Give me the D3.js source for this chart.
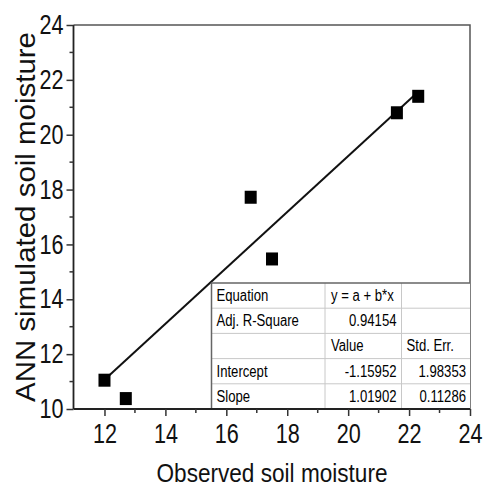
<!DOCTYPE html>
<html><head><meta charset="utf-8">
<script src="https://cdn.jsdelivr.net/npm/d3@7"></script>
<style>body{margin:0;background:#fff}svg{display:block}</style>
</head><body>
<svg id="c" width="489" height="486"></svg>
<script>
const observed = [12.0, 12.7, 16.8, 17.5, 21.6, 22.3];
const simulated = [11.05, 10.38, 17.72, 15.47, 20.8, 21.4];
const intercept = -1.15952, slope = 1.01902;
const xTicks = [12, 14, 16, 18, 20, 22, 24];
const yTicks = [10, 12, 14, 16, 18, 20, 22, 24];
const xMinor = [13, 15, 17, 19, 21, 23];
const yMinor = [11, 13, 15, 17, 19, 21, 23];
const tableRows = [
  ["Equation", "y = a + b*x", ""],
  ["Adj. R-Square", "0.94154", ""],
  ["", "Value", "Std. Err."],
  ["Intercept", "-1.15952", "1.98353"],
  ["Slope", "1.01902", "0.11286"]
];

const svg = d3.select("#c");
const L = 73.5, R = 470, T = 25, B = 409;
const x = d3.scaleLinear().domain([24 - (R - L) / 30.46, 24]).range([L, R]);
const y = d3.scaleLinear().domain([10, 24]).range([B, T]);
const font = "'Liberation Sans', Arial, sans-serif";

function condense(sel, f) {
  sel.each(function () {
    const w = this.getComputedTextLength();
    if (w > 0) d3.select(this).attr("textLength", w * f).attr("lengthAdjust", "spacingAndGlyphs");
  });
}

// frame top/right
svg.append("path").attr("d", `M${L},${T}H${R}V${B}`).attr("fill", "none")
  .attr("stroke", "#555").attr("stroke-width", 1.5);

// regression line
const xs = d3.extent(observed);
svg.append("line")
  .attr("x1", x(xs[0])).attr("y1", y(intercept + slope * xs[0]))
  .attr("x2", x(xs[1])).attr("y2", y(intercept + slope * xs[1]))
  .attr("stroke", "#111").attr("stroke-width", 2);

// table
const colX = [211.5, 325, 401.5, R];
const rowH = 25.2;
const tTop = B - rowH * tableRows.length;
const tg = svg.append("g");
tg.append("rect").attr("x", colX[0]).attr("y", tTop).attr("width", R - colX[0]).attr("height", B - tTop)
  .attr("fill", "#fff");
tableRows.forEach((r, i) => {
  if (i > 0) tg.append("line").attr("x1", colX[0]).attr("x2", R).attr("y1", tTop + i * rowH).attr("y2", tTop + i * rowH)
    .attr("stroke", "#c8c8c8").attr("stroke-width", 1);
});
[colX[1], colX[2]].forEach(cx => tg.append("line").attr("x1", cx).attr("x2", cx).attr("y1", tTop).attr("y2", B)
  .attr("stroke", "#c8c8c8").attr("stroke-width", 1));
tg.append("path").attr("d", `M${colX[0]},${B}V${tTop}H${R}`).attr("fill", "none").attr("stroke", "#666").attr("stroke-width", 1.5);
tableRows.forEach((r, i) => {
  const by = tTop + i * rowH + 18;
  tg.append("text").attr("x", colX[0] + 5).attr("y", by).text(r[0]);
  const numeric1 = /^-?\d/.test(r[1]);
  tg.append("text").attr("x", numeric1 ? colX[2] - 5 : colX[1] + 6).attr("y", by)
    .attr("text-anchor", numeric1 ? "end" : "start").text(r[1]);
  const numeric2 = /^-?\d/.test(r[2]);
  tg.append("text").attr("x", numeric2 ? R - 4 : colX[2] + 5).attr("y", by)
    .attr("text-anchor", numeric2 ? "end" : "start").text(r[2]);
});
tg.selectAll("text").attr("font-family", font).attr("font-size", 16).attr("fill", "#000");
condense(tg.selectAll("text"), 0.82);

// points
svg.append("g").selectAll("rect").data(observed).join("rect")
  .attr("x", (d) => x(d) - 6).attr("y", (d, i) => y(simulated[i]) - 6.5)
  .attr("width", 12).attr("height", 13).attr("fill", "#000");

// axes
const xAxis = svg.append("g").attr("transform", `translate(0,${B})`)
  .call(d3.axisBottom(x).tickValues(xTicks).tickSize(7).tickPadding(8).tickFormat(d3.format("d")));
xAxis.append("g").selectAll("line").data(xMinor).join("line")
  .attr("x1", d => x(d)).attr("x2", d => x(d)).attr("y1", 0).attr("y2", 4).attr("stroke", "#333").attr("stroke-width", 1.5);
const yAxis = svg.append("g").attr("transform", `translate(${L},0)`)
  .call(d3.axisLeft(y).tickValues(yTicks).tickSize(7).tickPadding(3).tickFormat(d3.format("d")));
yAxis.append("g").selectAll("line").data(yMinor).join("line")
  .attr("x1", 0).attr("x2", -4).attr("y1", d => y(d)).attr("y2", d => y(d)).attr("stroke", "#333").attr("stroke-width", 1.5);
[xAxis, yAxis].forEach(a => {
  a.select(".domain").attr("stroke", "#222").attr("stroke-width", 1.8);
  a.selectAll(".tick line").attr("stroke", "#333").attr("stroke-width", 1.5);
  a.selectAll(".tick text").attr("font-family", font).attr("font-size", 27).attr("fill", "#111");
  condense(a.selectAll(".tick text"), 0.8);
});
xAxis.select(".domain").attr("d", `M${L},0H${R}`);
yAxis.select(".domain").attr("d", `M0,${B}V${T}`);

// titles
svg.append("text").attr("x", 272).attr("y", 482).attr("text-anchor", "middle")
  .attr("font-family", font).attr("font-size", 25).attr("fill", "#111")
  .attr("textLength", 231).attr("lengthAdjust", "spacingAndGlyphs")
  .text("Observed soil moisture");
svg.append("text").attr("transform", "translate(35,217) rotate(-90)").attr("text-anchor", "middle")
  .attr("font-family", font).attr("font-size", 28).attr("fill", "#111")
  .attr("textLength", 370).attr("lengthAdjust", "spacingAndGlyphs")
  .text("ANN simulated soil moisture");
</script>
</body></html>
